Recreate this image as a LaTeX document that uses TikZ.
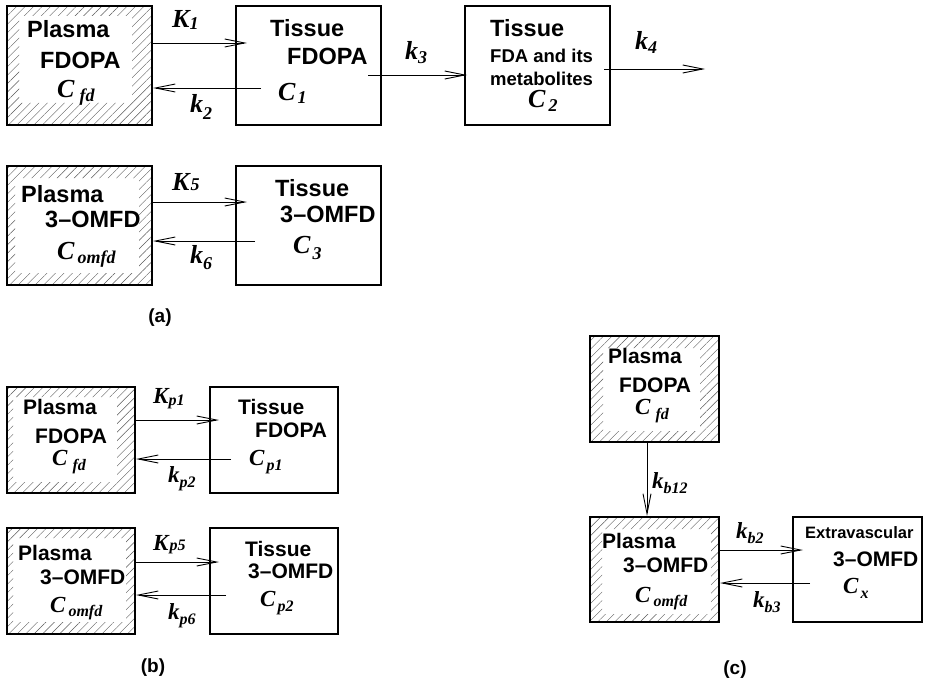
\documentclass[tikz,border=0pt]{standalone}
\usepackage{fontspec}
\setmainfont{Liberation Sans}
\newfontfamily\tms{Liberation Serif}
\usetikzlibrary{arrows.meta,patterns.meta}
% math-like labels: main letter, subscript, gap, lowering
\newcommand\mla[4]{{\tms\bfseries\itshape\fontsize{26}{26}\selectfont #1\kern#3pt\raisebox{-#4pt}{\fontsize{18}{18}\selectfont #2}}}
\newcommand\mlb[4]{{\tms\bfseries\itshape\fontsize{23}{23}\selectfont #1\kern#3pt\raisebox{-#4pt}{\fontsize{16}{16}\selectfont #2}}}
\tikzset{
  cbox/.style={draw, line width=2pt, inner sep=0pt},
  hatched/.style n args={4}{path picture={
    \fill[pattern={Lines[angle=45,distance=6pt,line width=0.4pt]},pattern color=black!65,even odd rule]
      (path picture bounding box.south west) rectangle (path picture bounding box.north east)
      ([xshift=#1pt,yshift=-#2pt]path picture bounding box.north west) rectangle
      ([xshift=-#3pt,yshift=#4pt]path picture bounding box.south east);}},
  txt/.style={anchor=base west, inner sep=0pt, font=\bfseries},
  bigt/.style={txt, font=\bfseries\fontsize{23.5}{25}\selectfont},
  midt/.style={txt, font=\bfseries\fontsize{21}{23}\selectfont},
  smallt/.style={txt, font=\bfseries\fontsize{18.5}{20}\selectfont},
  tinyt/.style={txt, font=\bfseries\fontsize{16.5}{18}\selectfont},
  lab/.style={anchor=base west, inner sep=0pt},
  arr/.style={line width=0.9pt, -{Straight Barb[length=20pt,width=8pt,line width=0.9pt]}},
  figcap/.style={inner sep=0pt, font=\bfseries\fontsize{19}{21}\selectfont}
}
\begin{document}
\begin{tikzpicture}[x=1pt,y=-1pt]
\useasboundingbox (0,0) rectangle (927,685);
% ---------------- (a) ----------------
\node[cbox,hatched={12}{10}{20}{22},minimum width=145pt,minimum height=119pt] (a1) at (79.5,65.5) {};
\node[cbox,minimum width=145pt,minimum height=119pt] (a2) at (308.5,65.5) {};
\node[cbox,minimum width=145pt,minimum height=119pt] (a3) at (537.5,65.5) {};
\node[cbox,hatched={8}{12}{13}{12},minimum width=145pt,minimum height=119pt] (a4) at (79.5,225.5) {};
\node[cbox,minimum width=145pt,minimum height=119pt] (a5) at (308.5,225.5) {};

\node[bigt] (a1p) at (27,38) {Plasma};
\node[bigt] (a1f) at (40,69) {FDOPA};
\node[lab] (a1c) at (57,97) {\mla{C}{fd}{5}{5}};
\node[bigt] (a2t) at (270,37) {Tissue};
\node[bigt] (a2f) at (287,65) {FDOPA};
\node[lab] (a2c) at (278,100) {\mla{C}{1}{2}{3}};
\node[bigt] (a3t) at (490,37) {Tissue};
\node[smallt] (a3f) at (490,63) {FDA and its};
\node[smallt] (a3m) at (490,85) {metabolites};
\node[lab] (a3c) at (528,107) {\mla{C}{2}{3}{4}};
\node[lab] (lK1) at (172,28) {\mla{K}{1}{0}{1.5}};
\node[lab] (lk2) at (190,113) {\mla{k}{2}{0}{6}};
\node[lab] (lk3) at (405,60) {\mla{k}{3}{0}{4}};
\node[lab] (lk4) at (635,50) {\mla{k}{4}{0}{4}};

\node[bigt] (a4p) at (21,202) {Plasma};
\node[bigt] (a4o) at (45,227) {3–OMFD};
\node[lab] (a4c) at (57,259) {\mla{C}{omfd}{3}{4}};
\node[bigt] (a5t) at (275,196) {Tissue};
\node[bigt] (a5o) at (280,222) {3–OMFD};
\node[lab] (a5c) at (293,253) {\mla{C}{3}{2}{6}};
\node[lab] (lK5) at (172,190) {\mla{K}{5}{1}{0}};
\node[lab] (lk6) at (190,263) {\mla{k}{6}{0}{6}};

\coordinate (k4end) at (705,69);
\draw[arr] ([yshift=22.5pt]a1.east) -- ([xshift=12pt,yshift=22.5pt]a2.west);
\draw[arr] ([xshift=26pt,yshift=-22.5pt]a2.west) -- ([yshift=-22.5pt]a1.east);
\draw[arr] ([xshift=-14pt,yshift=-9.5pt]a2.east) -- ([xshift=3pt,yshift=-9.5pt]a3.west);
\draw[arr] ([xshift=-7pt,yshift=-3.5pt]a3.east) -- (k4end);
\draw[arr] ([yshift=23.5pt]a4.east) -- ([xshift=12pt,yshift=23.5pt]a5.west);
\draw[arr] ([xshift=20pt,yshift=-15.5pt]a5.west) -- ([yshift=-15.5pt]a4.east);
\node[figcap] (capa) at (160,318) {(a)};

% ---------------- (b) ----------------
\node[cbox,hatched={6}{10}{18}{11},minimum width=128pt,minimum height=106pt] (b1) at (71,440) {};
\node[cbox,minimum width=128pt,minimum height=106pt] (b2) at (274,440) {};
\node[cbox,hatched={6}{10}{9}{12},minimum width=128pt,minimum height=106pt] (b3) at (71,581) {};
\node[cbox,minimum width=128pt,minimum height=106pt] (b4) at (274,581) {};

\node[midt] (b1p) at (23,414) {Plasma};
\node[midt] (b1f) at (35,443) {FDOPA};
\node[lab] (b1c) at (52,465) {\mlb{C}{fd}{5}{5}};
\node[midt] (b2t) at (238,414) {Tissue};
\node[midt] (b2f) at (255,437) {FDOPA};
\node[lab] (b2c) at (249,465) {\mlb{C}{p1}{2}{5}};
\node[lab] (lKp1) at (153,403) {\mlb{K}{p1}{0}{2}};
\node[lab] (lkp2) at (168,482) {\mlb{k}{p2}{0}{5}};

\node[midt] (b3p) at (18,560) {Plasma};
\node[midt] (b3o) at (40,584) {3–OMFD};
\node[lab] (b3c) at (50,612) {\mlb{C}{omfd}{3}{4}};
\node[midt] (b4t) at (245,556) {Tissue};
\node[midt] (b4o) at (248,578) {3–OMFD};
\node[lab] (b4c) at (260,606) {\mlb{C}{p2}{2}{5}};
\node[lab] (lKp5) at (153,550) {\mlb{K}{p5}{1}{0}};
\node[lab] (lkp6) at (168,619) {\mlb{k}{p6}{0}{5}};

\draw[arr] ([yshift=20pt]b1.east) -- ([xshift=10pt,yshift=20pt]b2.west);
\draw[arr] ([xshift=22pt,yshift=-19pt]b2.west) -- ([yshift=-19pt]b1.east);
\draw[arr] ([yshift=19pt]b3.east) -- ([xshift=10pt,yshift=19pt]b4.west);
\draw[arr] ([xshift=17pt,yshift=-14pt]b4.west) -- ([yshift=-14pt]b3.east);
\node[figcap] (capb) at (153,668) {(b)};

% ---------------- (c) ----------------
\node[cbox,hatched={13}{12}{19}{11},minimum width=129pt,minimum height=106pt] (c1) at (654.5,389) {};
\node[cbox,hatched={12}{12}{8}{8},minimum width=129pt,minimum height=105pt] (c2) at (654.5,569.5) {};
\node[cbox,minimum width=129pt,minimum height=105pt] (c3) at (857.5,569.5) {};

\node[midt] (c1p) at (608,363) {Plasma};
\node[midt] (c1f) at (619,392) {FDOPA};
\node[lab] (c1c) at (635,414) {\mlb{C}{fd}{5}{5}};
\node[lab] (lkb12) at (652,488) {\mlb{k}{b12}{0}{5}};
\node[midt] (c2p) at (602,548) {Plasma};
\node[midt] (c2o) at (623,572) {3–OMFD};
\node[lab] (c2c) at (635,602) {\mlb{C}{omfd}{3}{4}};
\node[tinyt] (c3e) at (805,538) {Extravascular};
\node[midt] (c3o) at (833,566) {3–OMFD};
\node[lab] (c3c) at (843,593) {\mlb{C}{x}{2}{5}};
\node[lab] (lkb2) at (736,538) {\mlb{k}{b2}{0}{5}};
\node[lab] (lkb3) at (753,607) {\mlb{k}{b3}{0}{5}};

\draw[arr] ([xshift=-7.5pt]c1.south) -- ([xshift=-7.5pt]c2.north);
\draw[arr] ([yshift=19.5pt]c2.east) -- ([xshift=11pt,yshift=19.5pt]c3.west);
\draw[arr] ([xshift=18pt,yshift=-13.5pt]c3.west) -- ([yshift=-13.5pt]c2.east);
\node[figcap] (capc) at (735,670) {(c)};
\end{tikzpicture}
\end{document}
